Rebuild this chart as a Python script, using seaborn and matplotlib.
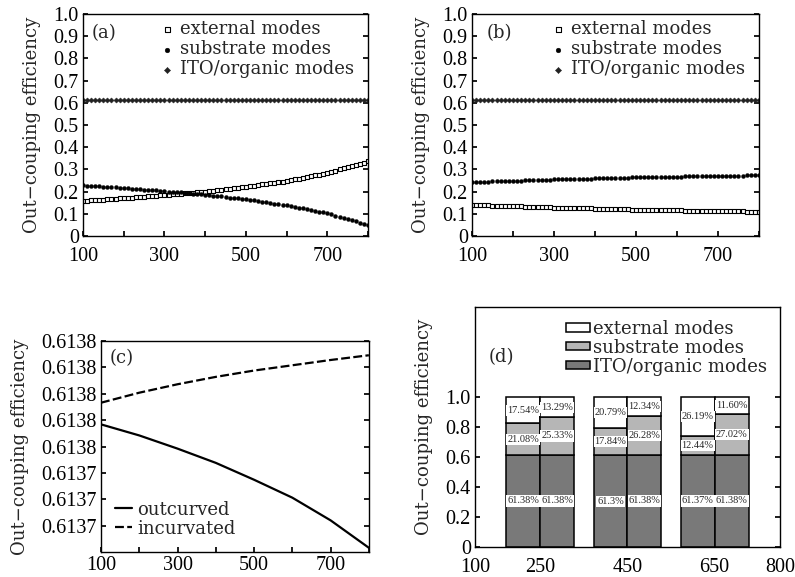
import matplotlib
matplotlib.use('Agg')
import matplotlib.pyplot as plt
import seaborn as sns
from matplotlib.patches import Patch

# ---- data -------------------------------------------------------------
wavelength = list(range(100, 801, 10))

ext_a = [0.158, 0.159, 0.160, 0.162, 0.163, 0.164, 0.165, 0.166, 0.167, 0.169, 0.170,
         0.171, 0.173, 0.174, 0.176, 0.177, 0.178, 0.180, 0.181, 0.183, 0.184,
         0.186, 0.187, 0.189, 0.190, 0.192, 0.194, 0.195, 0.197, 0.198, 0.200,
         0.202, 0.204, 0.206, 0.208, 0.210, 0.213, 0.215, 0.217, 0.219, 0.221,
         0.224, 0.226, 0.229, 0.232, 0.234, 0.237, 0.240, 0.242, 0.245, 0.248,
         0.252, 0.255, 0.259, 0.262, 0.266, 0.270, 0.273, 0.277, 0.280, 0.284,
         0.289, 0.294, 0.300, 0.305, 0.310, 0.315, 0.320, 0.326, 0.331, 0.336]
sub_a = [0.228, 0.227, 0.226, 0.224, 0.223, 0.222, 0.221, 0.220, 0.219, 0.217, 0.216,
         0.215, 0.213, 0.212, 0.210, 0.209, 0.208, 0.206, 0.205, 0.203, 0.202,
         0.200, 0.199, 0.197, 0.196, 0.194, 0.192, 0.191, 0.189, 0.188, 0.186,
         0.184, 0.182, 0.180, 0.178, 0.176, 0.173, 0.171, 0.169, 0.167, 0.165,
         0.162, 0.160, 0.157, 0.154, 0.152, 0.149, 0.146, 0.144, 0.141, 0.138,
         0.134, 0.131, 0.127, 0.124, 0.120, 0.116, 0.113, 0.109, 0.106, 0.102,
         0.097, 0.092, 0.086, 0.081, 0.076, 0.071, 0.066, 0.060, 0.055, 0.050]
ito_a = [0.614, 0.614, 0.614, 0.614, 0.614, 0.614, 0.614, 0.614, 0.614, 0.614, 0.614,
         0.614, 0.614, 0.614, 0.614, 0.614, 0.614, 0.614, 0.614, 0.614, 0.614,
         0.614, 0.614, 0.614, 0.614, 0.614, 0.614, 0.614, 0.614, 0.614, 0.614,
         0.614, 0.614, 0.614, 0.614, 0.614, 0.614, 0.614, 0.614, 0.614, 0.614,
         0.614, 0.614, 0.614, 0.614, 0.614, 0.614, 0.614, 0.614, 0.614, 0.614,
         0.614, 0.614, 0.614, 0.614, 0.614, 0.614, 0.614, 0.614, 0.614, 0.614,
         0.614, 0.614, 0.614, 0.614, 0.614, 0.614, 0.614, 0.614, 0.614, 0.614]

ext_b = [0.140, 0.139, 0.139, 0.138, 0.138, 0.137, 0.136, 0.136, 0.135, 0.135, 0.134,
         0.133, 0.133, 0.132, 0.132, 0.131, 0.130, 0.130, 0.129, 0.129, 0.128,
         0.128, 0.127, 0.127, 0.126, 0.126, 0.125, 0.125, 0.124, 0.124, 0.123,
         0.123, 0.122, 0.122, 0.122, 0.121, 0.121, 0.120, 0.120, 0.119, 0.119,
         0.119, 0.118, 0.118, 0.118, 0.117, 0.117, 0.116, 0.116, 0.115, 0.115,
         0.115, 0.114, 0.114, 0.114, 0.113, 0.113, 0.113, 0.112, 0.112, 0.112,
         0.112, 0.111, 0.111, 0.111, 0.111, 0.111, 0.110, 0.110, 0.110, 0.110]
sub_b = [0.243, 0.244, 0.244, 0.245, 0.245, 0.246, 0.247, 0.247, 0.248, 0.248, 0.249,
         0.250, 0.250, 0.251, 0.251, 0.252, 0.253, 0.253, 0.254, 0.254, 0.255,
         0.255, 0.256, 0.256, 0.257, 0.257, 0.258, 0.258, 0.259, 0.259, 0.260,
         0.260, 0.261, 0.261, 0.261, 0.262, 0.262, 0.263, 0.263, 0.264, 0.264,
         0.264, 0.265, 0.265, 0.265, 0.266, 0.266, 0.267, 0.267, 0.268, 0.268,
         0.268, 0.269, 0.269, 0.269, 0.270, 0.270, 0.270, 0.271, 0.271, 0.271,
         0.271, 0.272, 0.272, 0.272, 0.272, 0.272, 0.273, 0.273, 0.273, 0.273]
ito_b = ito_a

# panel (c)
c_x = [100, 200, 300, 400, 500, 600, 700, 800]
outcurved = [0.6137442, 0.6137421, 0.6137396, 0.6137369, 0.6137337, 0.6137303, 0.6137260, 0.6137208]
incurvated = [0.6137483, 0.6137502, 0.6137518, 0.6137532, 0.6137544, 0.6137554, 0.6137564, 0.6137573]
c_ticks = [0.613725, 0.61373, 0.613735, 0.61374, 0.613745, 0.61375, 0.613755, 0.61376]
c_ticklabels = ['0.6137', '0.6137', '0.6137', '0.6138', '0.6138', '0.6138', '0.6138', '0.6138']

# panel (d)
groups = [250, 450, 650]
ito_left = [0.6138, 0.6130, 0.6137]
sub_left = [0.2108, 0.1784, 0.1244]
ext_left = [0.1754, 0.2079, 0.2619]
ito_right = [0.6138, 0.6138, 0.6138]
sub_right = [0.2533, 0.2628, 0.2702]
ext_right = [0.1329, 0.1234, 0.1160]
ito_left_lbl = ['61.38%', '61.3%', '61.37%']
sub_left_lbl = ['21.08%', '17.84%', '12.44%']
ext_left_lbl = ['17.54%', '20.79%', '26.19%']
ito_right_lbl = ['61.38%', '61.38%', '61.38%']
sub_right_lbl = ['25.33%', '26.28%', '27.02%']
ext_right_lbl = ['13.29%', '12.34%', '11.60%']

# ---- style ------------------------------------------------------------
sns.set_theme(style='ticks')
plt.rcParams['font.family'] = ['DejaVu Serif']
plt.rcParams['xtick.direction'] = 'in'
plt.rcParams['ytick.direction'] = 'in'
plt.rcParams['xtick.major.size'] = 3.5
plt.rcParams['ytick.major.size'] = 3.5
plt.rcParams['axes.linewidth'] = 1.0
plt.rcParams['axes.edgecolor'] = 'black'

TICKFONT = {'family': 'Liberation Serif', 'size': 14.5}
YLABEL = 'Out\u2212couping efficiency'

fig = plt.figure(figsize=(7.95, 5.77), dpi=100)
ax_a = fig.add_axes([0.1044, 0.591, 0.3585, 0.3847])
ax_b = fig.add_axes([0.5937, 0.591, 0.361, 0.3847])
ax_c = fig.add_axes([0.127, 0.0433, 0.337, 0.3657])
ax_d = fig.add_axes([0.5975, 0.052, 0.3836, 0.4157])


def style_ticks(ax, xt, xl, yt, yl, xpad=8):
    ax.set_xticks(xt)
    ax.set_xticklabels(xl, fontdict=TICKFONT)
    ax.set_yticks(yt)
    ax.set_yticklabels(yl, fontdict=TICKFONT)
    ax.tick_params(right=True, colors='black')
    ax.tick_params(axis='y', pad=3)
    ax.tick_params(axis='x', pad=xpad)
    for s in ax.spines.values():
        s.set_visible(True)
        s.set_color('black')


x_ticks = [100, 200, 300, 400, 500, 600, 700, 800]
x_lbls = ['100', '', '300', '', '500', '', '700', '']
y_ticks = [0, 0.1, 0.2, 0.3, 0.4, 0.5, 0.6, 0.7, 0.8, 0.9, 1.0]
y_lbls = ['0', '0.1', '0.2', '0.3', '0.4', '0.5', '0.6', '0.7', '0.8', '0.9', '1.0']

for ax, ext, sub, ito, tag, lx in [(ax_a, ext_a, sub_a, ito_a, '(a)', 0.03),
                                   (ax_b, ext_b, sub_b, ito_b, '(b)', 0.052)]:
    sns.scatterplot(x=wavelength, y=ext, ax=ax, marker='s', s=9, color='white',
                    edgecolor='black', linewidth=0.8, label='external modes')
    sns.scatterplot(x=wavelength, y=sub, ax=ax, marker='o', s=8, color='black',
                    edgecolor='black', linewidth=0.3, label='substrate modes')
    sns.scatterplot(x=wavelength, y=ito, ax=ax, marker='D', s=7, color='#222222',
                    edgecolor='#222222', linewidth=0.3, label='ITO/organic modes')
    ax.set_xlim(100, 800)
    ax.set_ylim(0, 1.0)
    style_ticks(ax, x_ticks, x_lbls, y_ticks, y_lbls)
    ax.set_ylabel(YLABEL, fontsize=13, labelpad=9)
    ax.set_xlabel('')
    ax.text(lx, 0.915, tag, transform=ax.transAxes, fontsize=13, va='center', ha='left')
    ax.legend(loc='upper right', bbox_to_anchor=(0.975, 1.005), frameon=False, fontsize=13,
              handlelength=0.6, handletextpad=0.4, labelspacing=0.12, borderaxespad=0.0,
              markerscale=1.2)

# panel (c)
sns.lineplot(x=c_x, y=outcurved, ax=ax_c, color='black', linewidth=1.6, label='outcurved')
sns.lineplot(x=c_x, y=incurvated, ax=ax_c, color='black', linewidth=1.6,
             linestyle=(0, (4, 1.5)), label='incurvated')
ax_c.set_xlim(100, 800)
ax_c.set_ylim(0.61372, 0.61376)
style_ticks(ax_c, x_ticks, x_lbls, c_ticks, c_ticklabels, xpad=3)
ax_c.set_ylabel(YLABEL, fontsize=13, labelpad=9)
ax_c.text(0.034, 0.92, '(c)', transform=ax_c.transAxes, fontsize=13, va='center', ha='left')
ax_c.legend(loc='lower left', frameon=False, fontsize=13, handlelength=0.9,
            handletextpad=0.3, labelspacing=0.05, borderaxespad=0.4)

# panel (d)
bw = 78
c_ito, c_sub, c_ext = '#797979', '#b6b6b6', 'white'
for off, ito, sub, ext, l_ito, l_sub, l_ext in [
        (-bw / 2, ito_left, sub_left, ext_left, ito_left_lbl, sub_left_lbl, ext_left_lbl),
        (bw / 2, ito_right, sub_right, ext_right, ito_right_lbl, sub_right_lbl, ext_right_lbl)]:
    xs = [g + off for g in groups]
    ax_d.bar(xs, ito, width=bw, color=c_ito, edgecolor='black', linewidth=1.1)
    ax_d.bar(xs, sub, width=bw, bottom=ito, color=c_sub, edgecolor='black', linewidth=1.1)
    tops = [i + s for i, s in zip(ito, sub)]
    ax_d.bar(xs, ext, width=bw, bottom=tops, color=c_ext, edgecolor='black', linewidth=1.1)
    for k in range(len(groups)):
        for yv, txt in [(ito[k] / 2, l_ito[k]), (ito[k] + sub[k] / 2, l_sub[k]),
                        (tops[k] + ext[k] / 2, l_ext[k])]:
            ax_d.text(xs[k], yv, txt, ha='center', va='center', fontsize=7.5,
                      family='Liberation Serif',
                      bbox=dict(boxstyle='square,pad=0.1', fc='white', ec='none'))

ax_d.set_xlim(100, 800)
ax_d.set_ylim(0, 1.6)
style_ticks(ax_d, [100, 250, 450, 650, 800], ['100', '250', '450', '650', '800'],
            [0, 0.2, 0.4, 0.6, 0.8, 1.0], ['0', '0.2', '0.4', '0.6', '0.8', '1.0'], xpad=8)
ax_d.tick_params(axis='x', length=0)
ax_d.set_ylabel(YLABEL, fontsize=13, labelpad=9)
ax_d.text(0.043, 0.79, '(d)', transform=ax_d.transAxes, fontsize=13, va='center', ha='left')
handles = [Patch(facecolor=c_ext, edgecolor='black', linewidth=1.1),
           Patch(facecolor=c_sub, edgecolor='black', linewidth=1.1),
           Patch(facecolor=c_ito, edgecolor='black', linewidth=1.1)]
ax_d.legend(handles, ['external modes', 'substrate modes', 'ITO/organic modes'],
            loc='upper right', frameon=False, fontsize=13, handlelength=1.3,
            handleheight=0.35, handletextpad=0.2, labelspacing=0.05, borderaxespad=0.3)

fig.savefig('out.png', dpi=100)
